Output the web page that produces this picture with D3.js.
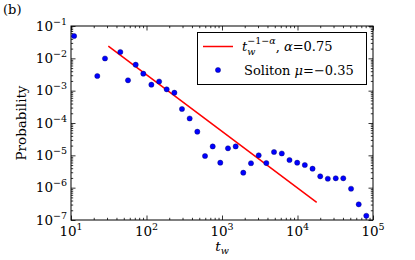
<!DOCTYPE html>
<html><head><meta charset="utf-8">
<script src="https://cdn.jsdelivr.net/npm/d3@7"></script>
<style>
html,body{margin:0;padding:0;background:#fff;}
svg text{font-family:"DejaVu Serif",serif;fill:#000;}
</style></head>
<body>
<svg id="c" width="415" height="260"></svg>
<script>
const tw = [11, 22.3, 28.2, 45, 56.9, 71.9, 90.7, 116, 147, 185, 234, 295, 373, 471, 596, 753, 949, 1200, 1517, 1914, 2421, 3062, 3864, 4887, 6194, 7834, 9908, 12500, 15820, 20000, 25200, 32100, 40400, 51200, 64700, 81500];
const prob = [0.049, 0.00284, 0.00989, 0.0157, 0.00209, 0.00635, 0.00335, 0.00153, 0.00192, 0.0011, 0.000865, 0.000271, 0.000138, 5.38e-5, 9.53e-6, 1.88e-5, 5.91e-6, 1.65e-5, 1.88e-5, 2.9e-6, 5.7e-6, 1.0e-5, 5.78e-6, 1.27e-5, 1.14e-5, 7.16e-6, 5.91e-6, 5.02e-6, 3.86e-6, 2.24e-6, 1.89e-6, 1.95e-6, 1.95e-6, 9.27e-7, 3.05e-7, 1.35e-7];
const fitT = [31.2, 17960];
const fitP = [0.024, 3.52e-7];
const xTickExp = [1, 2, 3, 4, 5];
const yTickExp = [-7, -6, -5, -4, -3, -2, -1];
const panelLabel = "(b)";
const yLabel = "Probability";
const alphaVal = "0.75";
const muVal = "−0.35";
const solitonName = "Soliton";

const svg = d3.select("#c");
const L = 71, R = 373, T = 26, B = 220;
const x = d3.scaleLog().domain([10, 1e5]).range([L, R]);
const y = d3.scaleLog().domain([1e-7, 1e-1]).range([B, T]);

const xMaj = xTickExp.map(e => Math.pow(10, e));
const yMaj = yTickExp.map(e => Math.pow(10, e));
const xMin = [], yMin = [];
for (let e = 1; e < 5; e++) for (let k = 2; k <= 9; k++) xMin.push(k * Math.pow(10, e));
for (let e = -7; e < -1; e++) for (let k = 2; k <= 9; k++) yMin.push(k * Math.pow(10, e));

function ax(gen, tr, vals, size) {
  const g = svg.append("g").attr("transform", tr)
    .call(gen.tickValues(vals).tickSizeInner(size).tickSizeOuter(0).tickFormat(""));
  g.select(".domain").remove();
  g.selectAll("line").attr("stroke", "#000").attr("stroke-width", 0.8);
}
ax(d3.axisBottom(x), `translate(0,${B})`, xMaj, -4.5);
ax(d3.axisBottom(x), `translate(0,${B})`, xMin, -2.2);
ax(d3.axisTop(x), `translate(0,${T})`, xMaj, -4.5);
ax(d3.axisTop(x), `translate(0,${T})`, xMin, -2.2);
ax(d3.axisLeft(y), `translate(${L},0)`, yMaj, -4.5);
ax(d3.axisLeft(y), `translate(${L},0)`, yMin, -2.2);
ax(d3.axisRight(y), `translate(${R},0)`, yMaj, -4.5);
ax(d3.axisRight(y), `translate(${R},0)`, yMin, -2.2);

svg.append("rect").attr("x", L).attr("y", T).attr("width", R - L).attr("height", B - T)
  .attr("fill", "none").attr("stroke", "#000").attr("stroke-width", 1);

xTickExp.forEach(e => {
  const t = svg.append("text").attr("x", x(Math.pow(10, e))).attr("y", 236)
    .attr("text-anchor", "middle").attr("font-size", 13.5);
  t.append("tspan").text("10");
  t.append("tspan").attr("dy", -6).attr("font-size", 9.5).text(e);
});
yTickExp.forEach(e => {
  const t = svg.append("text").attr("x", L - 4).attr("y", y(Math.pow(10, e)) + 4.5)
    .attr("text-anchor", "end").attr("font-size", 13.5);
  t.append("tspan").text("10");
  t.append("tspan").attr("dy", -6).attr("font-size", 9.5).text(String(e).replace("-", "−"));
});

svg.append("text").attr("transform", `translate(26,${(T + B) / 2}) rotate(-90)`)
  .attr("text-anchor", "middle").attr("font-size", 13.5).text(yLabel);
const xl = svg.append("text").attr("x", (L + R) / 2).attr("y", 251).attr("text-anchor", "middle").attr("font-size", 13.5);
xl.append("tspan").attr("font-style", "italic").text("t");
xl.append("tspan").attr("dy", 3).attr("font-size", 9.5).attr("font-style", "italic").text("w");
svg.append("text").attr("x", 3).attr("y", 14).attr("font-size", 13).text(panelLabel);

const line = d3.line().x((d, i) => x(fitT[i])).y((d, i) => y(fitP[i]));
svg.append("path").attr("d", line(fitT)).attr("fill", "none").attr("stroke", "#ff0000").attr("stroke-width", 1.5);

svg.append("g").selectAll("circle").data(tw).join("circle")
  .attr("cx", d => x(d)).attr("cy", (d, i) => y(prob[i])).attr("r", 2.6)
  .attr("fill", "#0000ff").attr("stroke", "#000060").attr("stroke-width", 0.4);

const lg = svg.append("g");
lg.append("rect").attr("x", 197.5).attr("y", 32.5).attr("width", 169).attr("height", 52)
  .attr("fill", "#fff").attr("stroke", "#000").attr("stroke-width", 1);
lg.append("line").attr("x1", 203).attr("x2", 233).attr("y1", 46.5).attr("y2", 46.5)
  .attr("stroke", "#ff0000").attr("stroke-width", 1.5);
lg.append("circle").attr("cx", 218).attr("cy", 70).attr("r", 2.6)
  .attr("fill", "#0000ff").attr("stroke", "#000060").attr("stroke-width", 0.4);
const tT = lg.append("text").attr("x", 242).attr("y", 51).attr("font-size", 13).attr("font-style", "italic").text("t");
const tw0 = tT.node().getComputedTextLength();
lg.append("text").attr("x", 242 + tw0).attr("y", 55).attr("font-size", 9.5).attr("font-style", "italic").text("w");
const sup = lg.append("text").attr("x", 242 + tw0).attr("y", 44).attr("font-size", 9.5);
sup.append("tspan").text("−1−");
sup.append("tspan").attr("font-style", "italic").text("α");
const sw = sup.node().getComputedTextLength();
const ft = lg.append("text").attr("x", 242 + tw0 + sw).attr("y", 51).attr("font-size", 13);
ft.append("tspan").text(", ");
ft.append("tspan").attr("font-style", "italic").text("α");
ft.append("tspan").text("=" + alphaVal);
const st = lg.append("text").attr("x", 244).attr("y", 75).attr("font-size", 13);
st.append("tspan").text(solitonName + " ");
st.append("tspan").attr("font-style", "italic").text("μ");
st.append("tspan").text("=" + muVal);
</script>
</body></html>
